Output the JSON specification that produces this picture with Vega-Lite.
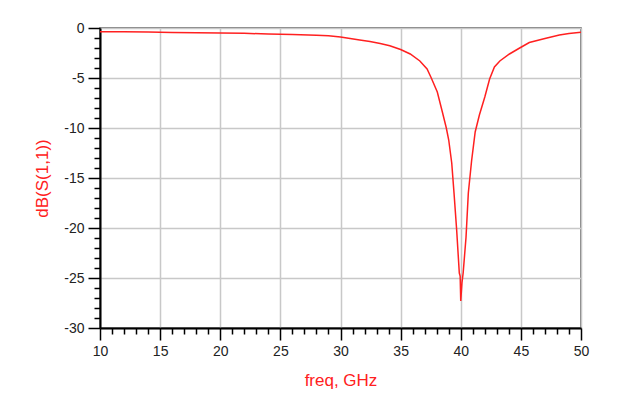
{
  "$schema": "https://vega.github.io/schema/vega-lite/v6.json",
  "width": 481,
  "height": 300,
  "autosize": "none",
  "padding": {"left": 100, "top": 28, "right": 38, "bottom": 82},
  "background": "white",
  "config": {
    "view": {"stroke": "#555555", "strokeWidth": 1.5},
    "font": "Liberation Sans"
  },
  "data": {
    "values": [
      {"freq": 10, "s11": -0.37},
      {"freq": 12, "s11": -0.38},
      {"freq": 14, "s11": -0.40},
      {"freq": 16, "s11": -0.45},
      {"freq": 18, "s11": -0.48},
      {"freq": 20, "s11": -0.5},
      {"freq": 22, "s11": -0.53},
      {"freq": 24, "s11": -0.6},
      {"freq": 26, "s11": -0.66},
      {"freq": 28, "s11": -0.72},
      {"freq": 29, "s11": -0.78},
      {"freq": 30, "s11": -0.9},
      {"freq": 30.8, "s11": -1.05},
      {"freq": 31.6, "s11": -1.2},
      {"freq": 32.45, "s11": -1.35},
      {"freq": 33.3, "s11": -1.55},
      {"freq": 34.1, "s11": -1.77},
      {"freq": 35, "s11": -2.15},
      {"freq": 35.8, "s11": -2.6},
      {"freq": 36.6, "s11": -3.3},
      {"freq": 37.2, "s11": -4.1},
      {"freq": 37.55, "s11": -5.0},
      {"freq": 38.05, "s11": -6.4},
      {"freq": 38.45, "s11": -8.3},
      {"freq": 38.8, "s11": -10.0},
      {"freq": 39.0, "s11": -11.2},
      {"freq": 39.25, "s11": -13.5},
      {"freq": 39.44, "s11": -16.5},
      {"freq": 39.66, "s11": -20.2},
      {"freq": 39.88, "s11": -24.5},
      {"freq": 39.95, "s11": -24.8},
      {"freq": 40.0, "s11": -27.3},
      {"freq": 40.1, "s11": -25.5},
      {"freq": 40.2, "s11": -24.5},
      {"freq": 40.44, "s11": -20.9},
      {"freq": 40.63, "s11": -16.5},
      {"freq": 40.9, "s11": -13.3},
      {"freq": 41.2, "s11": -10.4},
      {"freq": 41.55, "s11": -8.7},
      {"freq": 42.0, "s11": -6.9},
      {"freq": 42.4, "s11": -5.1},
      {"freq": 42.8, "s11": -3.9},
      {"freq": 43.25, "s11": -3.3},
      {"freq": 44.05, "s11": -2.6},
      {"freq": 44.9, "s11": -2.0},
      {"freq": 45.7, "s11": -1.45},
      {"freq": 47, "s11": -1.05},
      {"freq": 48.2, "s11": -0.7},
      {"freq": 49, "s11": -0.55},
      {"freq": 50, "s11": -0.42}
    ]
  },
  "mark": {"type": "line", "color": "#ff2020", "strokeWidth": 1.5, "clip": true},
  "encoding": {
    "x": {
      "field": "freq",
      "type": "quantitative",
      "scale": {"domain": [10, 50], "nice": false, "zero": false},
      "axis": {
        "title": "freq, GHz",
        "titleColor": "#ff2020",
        "titleFontSize": 17,
        "titleFontWeight": "normal",
        "titlePadding": 14,
        "values": [10,11,12,13,14,15,16,17,18,19,20,21,22,23,24,25,26,27,28,29,30,31,32,33,34,35,36,37,38,39,40,41,42,43,44,45,46,47,48,49,50],
        "labelExpr": "datum.value % 5 === 0 ? '' + datum.value : ''",
        "labelFontSize": 14,
        "labelColor": "#222222",
        "labelPadding": 4,
        "labelFlush": false,
        "labelOverlap": false,
        "domainColor": "#000000",
        "domainWidth": 2,
        "tickColor": "#000000",
        "tickWidth": 1.5,
        "tickSize": {"condition": {"test": "datum.value % 5 === 0", "value": 12}, "value": 6},
        "grid": true,
        "gridColor": "#c8c8c8",
        "gridWidth": 1.5,
        "gridOpacity": {"condition": {"test": "datum.value % 5 === 0", "value": 1}, "value": 0}
      }
    },
    "y": {
      "field": "s11",
      "type": "quantitative",
      "scale": {"domain": [-30, 0], "nice": false, "zero": false},
      "axis": {
        "title": "dB(S(1,1))",
        "titleColor": "#ff2020",
        "titleFontSize": 17,
        "titleFontWeight": "normal",
        "titlePadding": 12,
        "values": [-30,-29,-28,-27,-26,-25,-24,-23,-22,-21,-20,-19,-18,-17,-16,-15,-14,-13,-12,-11,-10,-9,-8,-7,-6,-5,-4,-3,-2,-1,0],
        "labelExpr": "datum.value % 5 === 0 ? '' + datum.value : ''",
        "labelFontSize": 14,
        "labelColor": "#222222",
        "labelPadding": 4,
        "labelFlush": false,
        "labelOverlap": false,
        "domainColor": "#000000",
        "domainWidth": 2,
        "tickColor": "#000000",
        "tickWidth": 1.5,
        "tickSize": {"condition": {"test": "datum.value % 5 === 0", "value": 12}, "value": 6},
        "grid": true,
        "gridColor": "#c8c8c8",
        "gridWidth": 1.5,
        "gridOpacity": {"condition": {"test": "datum.value % 5 === 0", "value": 1}, "value": 0}
      }
    }
  }
}
